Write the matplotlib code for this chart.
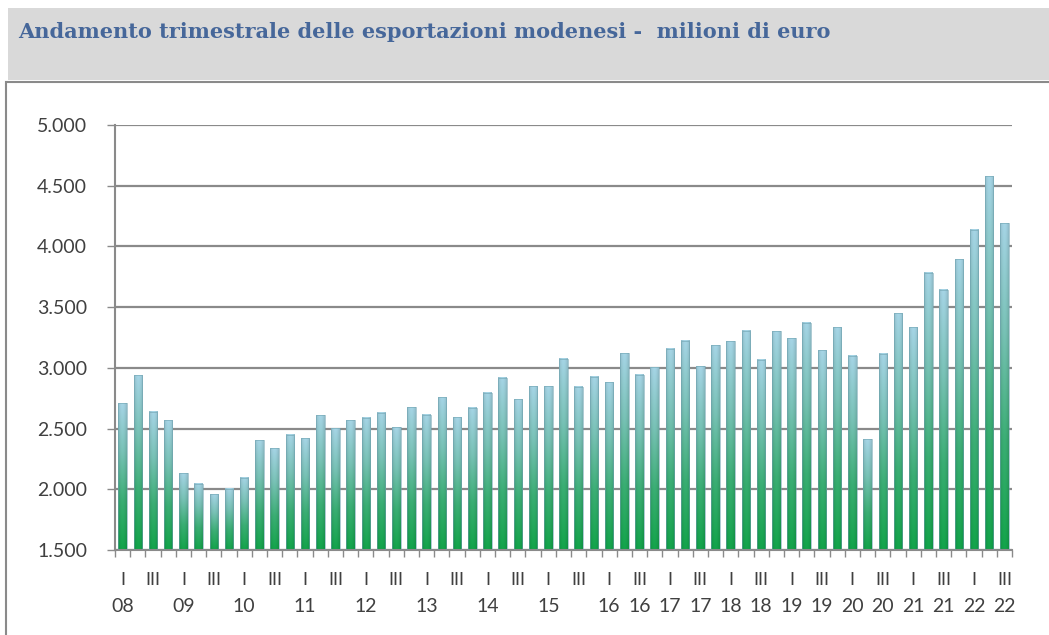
import numpy as np
import matplotlib
matplotlib.use('Agg')
import matplotlib.pyplot as plt
from matplotlib.colors import LinearSegmentedColormap
from matplotlib.patches import Rectangle

# quarterly exports, millions of euro, 2008 Q1 - 2022 Q3
years = ['08', '09', '10', '11', '12', '13', '14', '15',
         '16', '17', '18', '19', '20', '21', '22']
exports = [2710, 2940, 2640, 2567,
           2131, 2047, 1960, 2006,
           2096, 2404, 2339, 2448,
           2420, 2610, 2502, 2567,
           2588, 2629, 2512, 2675,
           2614, 2757, 2595, 2673,
           2795, 2920, 2741, 2850,
           2850, 3075, 2844, 2928,
           2882, 3121, 2944, 3007,
           3156, 3224, 3012, 3185,
           3219, 3306, 3068, 3301,
           3243, 3372, 3145, 3333,
           3098, 2410, 3117, 3451,
           3333, 3784, 3642, 3896,
           4139, 4577, 4189]
quarter_names = ['I', '', 'III', '']

plt.rcParams['font.family'] = ['Lato', 'DejaVu Sans']
text_col = '#404040'
grid_col = '#8a8a8a'

fig = plt.figure(figsize=(10.49, 6.35), dpi=100)
W, H = 1049, 635

# title band and frame
fig.patches.append(Rectangle((8 / W, 1 - 80 / H), 1, 72 / H, transform=fig.transFigure,
                             facecolor='#d9d9d9', edgecolor='none', zorder=-2))
fig.patches.append(Rectangle((6 / W, -0.05), 1, 1 - 82 / H + 0.05, transform=fig.transFigure,
                             facecolor='white', edgecolor='#8a8a8a', linewidth=1.5, zorder=-1))
fig.text(18 / W, 1 - 32 / H, 'Andamento trimestrale delle esportazioni modenesi -  milioni di euro',
         fontfamily='DejaVu Serif', fontweight='bold', fontsize=15, color='#46679a',
         va='center', ha='left')

ax = fig.add_axes([115 / W, 85 / H, 897 / W, 425 / H])
ax.set_facecolor('none')

n = len(exports)
x = np.arange(n)
width = 0.56
cmap = LinearSegmentedColormap.from_list('expo', ['#12a44a', '#3aae74', '#78c2b6', '#a6d5e6'])
# vertical colour ramp with a slight rounded shading across the bar
ramp = cmap(np.linspace(0, 1, 256))[:, :3]
across = 1 - 0.12 * np.linspace(-1, 1, 12) ** 2
img = ramp[:, None, :] * across[None, :, None]

bars = ax.bar(x, exports, width=width, bottom=0, facecolor='none',
              edgecolor='#6fa3b0', linewidth=0.4, zorder=3)
for xi, v in zip(x, exports):
    ax.imshow(img, extent=[xi - width / 2, xi + width / 2, 1500, v], origin='lower',
              aspect='auto', zorder=2, interpolation='bilinear')

ax.set_xlim(-0.5, n - 0.5)
ax.set_ylim(1500, 5000)
ax.set_yticks(np.arange(1500, 5001, 500))
ax.set_yticklabels([f'{v:,}'.replace(',', '.') for v in range(1500, 5001, 500)])
ax.yaxis.grid(True, color=grid_col, linewidth=1.6, zorder=1)
ax.set_axisbelow(True)

ax.set_xticks(np.arange(-0.5, n, 1))
ax.set_xticklabels([])
ax.tick_params(axis='x', length=5, width=1, color=grid_col, direction='out')
ax.tick_params(axis='y', length=6, width=1, color=grid_col, direction='out',
               labelsize=14, labelcolor=text_col, pad=14)

for s in ['top', 'right']:
    ax.spines[s].set_visible(False)
for s in ['left', 'bottom']:
    ax.spines[s].set_color(grid_col)
    ax.spines[s].set_linewidth(1.5)

# two rows of category labels
trans = ax.get_xaxis_transform()
for i in range(n):
    q = i % 4
    yr = years[i // 4]
    if quarter_names[q]:
        ax.text(i, -30 / 425, quarter_names[q], transform=trans, ha='center', va='center',
                fontsize=13, color=text_col)
        if q == 0 or yr >= '16':
            ax.text(i, -57 / 425, yr, transform=trans, ha='center', va='center',
                    fontsize=14, color=text_col)

fig.savefig('out.png', dpi=100)
